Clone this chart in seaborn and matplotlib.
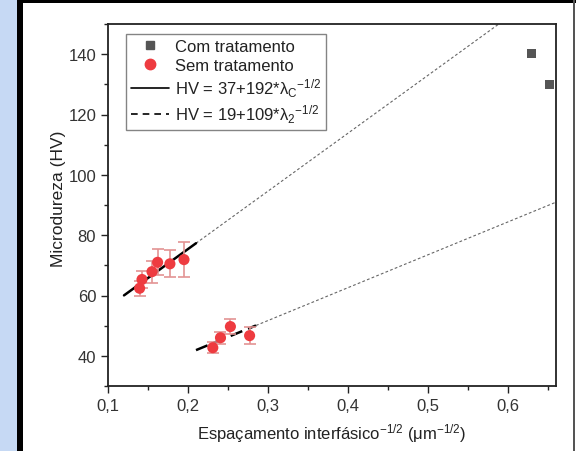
import numpy as np
import matplotlib
matplotlib.use("Agg")
import matplotlib.pyplot as plt
from matplotlib.lines import Line2D
from matplotlib.patches import Rectangle
from matplotlib.ticker import MultipleLocator, FixedLocator, FixedFormatter
import seaborn as sns

# -----------------------------------------------
# Dados
sem_x = [0.1395, 0.1425, 0.155, 0.162, 0.1774, 0.195, 0.231, 0.2406, 0.253, 0.277]
sem_y = [62.4, 65.3, 67.9, 71.0, 70.5, 71.9, 42.7, 46.0, 49.7, 46.7]
sem_err = [2.5, 2.8, 3.7, 4.3, 4.5, 5.7, 1.9, 2.0, 2.5, 2.9]

com_x = [0.629, 0.652]
com_y = [140.3, 130.0]

# ajustes HV = a + b * x
fit_a = [37, 19]
fit_b = [192, 109]
fit_x0 = [0.12, 0.21]
fit_x1 = [0.21, 0.285]
fit_xext = 0.66

xticks = [0.1, 0.2, 0.3, 0.4, 0.5, 0.6]
xtick_labels = ["0,1", "0,2", "0,3", "0,4", "0,5", "0,6"]
yticks = [40, 60, 80, 100, 120, 140]

sns.set_theme(style="ticks")
plt.rcParams['font.family'] = ['Liberation Sans', 'DejaVu Sans']
plt.rcParams['mathtext.default'] = 'regular'

fig = plt.figure(figsize=(5.76, 4.52), dpi=100)
ax = fig.add_axes([108 / 576, 1 - 387 / 452, (556 - 108) / 576, (387 - 25) / 452])

# moldura externa
fig.patches.append(Rectangle((0, 0), 17 / 576, 1, transform=fig.transFigure,
                             facecolor="#c6d9f4", edgecolor="none", zorder=-5))
fig.patches.append(Rectangle((17 / 576, 0), 6 / 576, 1, transform=fig.transFigure,
                             facecolor="black", edgecolor="none", zorder=-5))
fig.patches.append(Rectangle((17 / 576, 1 - 4 / 452), 1, 4 / 452, transform=fig.transFigure,
                             facecolor="black", edgecolor="none", zorder=-5))
fig.patches.append(Rectangle((573 / 576, 0), 2 / 576, 1, transform=fig.transFigure,
                             facecolor="#555555", edgecolor="none", zorder=-5))

# linhas de ajuste
estilos = ["-", (0, (5, 2.5))]
for a, b, x0, x1, ls in zip(fit_a, fit_b, fit_x0, fit_x1, estilos):
    xs = np.array([x0, x1])
    ax.plot(xs, a + b * xs, color="black", lw=1.8, ls=ls, zorder=3)
    xe = np.array([x1, fit_xext])
    ax.plot(xe, a + b * xe, color="#666666", lw=0.8, ls=(0, (2.5, 2)), zorder=2)

# pontos
ax.errorbar(sem_x, sem_y, yerr=sem_err, fmt="none", ecolor="#e39393",
            elinewidth=1.2, capsize=4, capthick=1.2, zorder=4)
sns.scatterplot(x=sem_x, y=sem_y, ax=ax, color="#ee3b40", s=64, edgecolor="none",
                marker="o", zorder=5)
sns.scatterplot(x=com_x, y=com_y, ax=ax, color="#555555", s=45, edgecolor="none",
                marker="s", zorder=5)

ax.set_xlim(0.1, 0.66)
ax.set_ylim(30, 150)
ax.xaxis.set_major_locator(FixedLocator(xticks))
ax.xaxis.set_major_formatter(FixedFormatter(xtick_labels))
ax.xaxis.set_minor_locator(MultipleLocator(0.05))
ax.yaxis.set_major_locator(FixedLocator(yticks))
ax.yaxis.set_minor_locator(MultipleLocator(10))
ax.tick_params(which="major", direction="out", length=5, width=1, labelsize=12,
               colors="#222222", labelcolor="#333333")
ax.tick_params(which="minor", direction="out", length=3, width=1, colors="#222222")
for s in ax.spines.values():
    s.set_color("#222222")
    s.set_linewidth(1.3)

ax.set_xlabel("Espaçamento interfásico$^{-1/2}$ ($\\mu$m$^{-1/2}$)", fontsize=12,
              color="#222222", labelpad=6)
ax.set_ylabel("Microdureza (HV)", fontsize=12.5, color="#222222")
ax.yaxis.set_label_coords(-0.094, 0.52)

handles = [
    Line2D([], [], ls="none", marker="s", color="#555555", ms=6),
    Line2D([], [], ls="none", marker="o", color="#ee3b40", ms=7.5),
    Line2D([], [], color="black", lw=1.2),
    Line2D([], [], color="black", lw=1.2, ls=(0, (4, 3))),
]
labels = [
    "Com tratamento",
    "Sem tratamento",
    "HV = 37+192*λ$_C$$^{-1/2}$",
    "HV = 19+109*λ$_2$$^{-1/2}$",
]
leg = ax.legend(handles, labels, loc="upper left", bbox_to_anchor=(0.04, 0.972),
                fontsize=12, frameon=True, fancybox=False, handlelength=2.3,
                handletextpad=0.35, labelspacing=0.22, borderpad=0.3, borderaxespad=0)
leg.get_frame().set_edgecolor("#666666")
leg.get_frame().set_linewidth(1.0)
for t in leg.get_texts():
    t.set_color("#222222")

fig.savefig("out.png", dpi=100)
plt.close(fig)
